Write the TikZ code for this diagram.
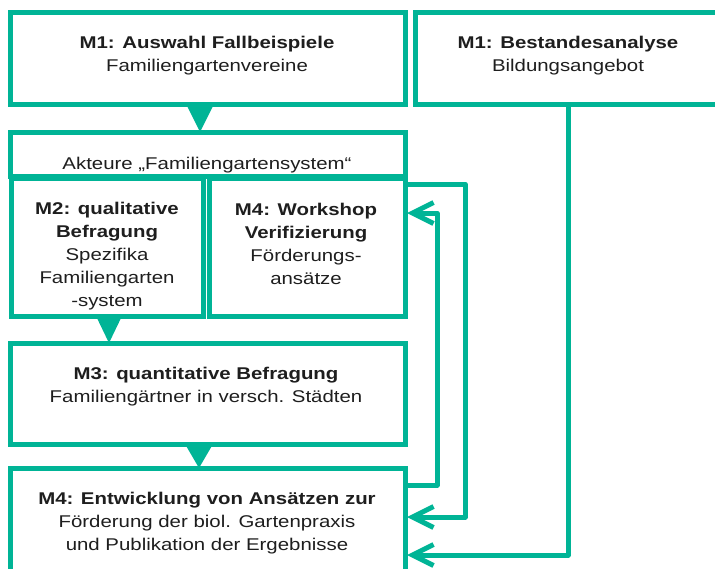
\documentclass[tikz,border=0pt]{standalone}
\usepackage{fontspec}
\setmainfont{Liberation Sans}[FakeStretch=1.2]
\usetikzlibrary{arrows.meta,calc}
\definecolor{teal1}{RGB}{0,180,150}
\definecolor{txt}{RGB}{30,30,30}
\begin{document}
\begin{tikzpicture}[x=1pt,y=-1pt,
  box/.style={draw=teal1,line width=5pt,fill=white,inner sep=0pt,outer sep=0pt,anchor=north west,rectangle},
  lbl/.style={text=txt,align=center,font=\fontsize{17}{23}\selectfont,inner sep=0pt},
  fb/.style={draw=teal1,line width=5pt,line join=round},
  tipend/.style={-{Straight Barb[length=21pt,width=21pt]}},
  tri/.style={fill=teal1}]
\useasboundingbox (0,0) rectangle (715,568);
\clip (0,0) rectangle (715,568);
% boxes
\node[box,minimum width=395pt,minimum height=92pt] (b1) at (10,12) {};
\node[box,minimum width=310pt,minimum height=92pt] (b2) at (415,12) {};
\node[box,minimum width=395pt,minimum height=44pt] (akt) at (10,132) {};
\node[box,minimum width=192pt,minimum height=138pt] (m2) at (11,178) {};
\node[box,minimum width=196pt,minimum height=138pt] (m4w) at (209,178) {};
\node[box,minimum width=395pt,minimum height=101pt] (m3) at (10,343) {};
\node[box,minimum width=395pt,minimum height=120pt] (m4) at (10,468) {};
% texts
\node[lbl] (t1) at (207,56) {\textbf{M1: Auswahl Fallbeispiele}\\Familiengartenvereine};
\node[lbl] (t2) at (568,56) {\textbf{M1: Bestandesanalyse}\\Bildungsangebot};
\node[lbl] (tak) at (207,165) {Akteure „Familiengartensystem“};
\node[lbl] (tm2) at (107,256) {\textbf{M2: qualitative}\\\textbf{Befragung}\\Spezifika\\Familiengarten\\-system};
\node[lbl] (tm4w) at (306,244) {\textbf{M4: Workshop}\\\textbf{Verifizierung}\\Förderungs-\\ansätze};
\node[lbl] (tm3) at (206,387) {\textbf{M3: quantitative Befragung}\\Familiengärtner in versch. Städten};
\node[lbl] (tm4) at (207,523) {\textbf{M4: Entwicklung von Ansätzen zur}\\Förderung der biol. Gartenpraxis\\und Publikation der Ergebnisse};
% triangles
\coordinate (x1) at (200,0);
\coordinate (x2) at (109,0);
\coordinate (x3) at (199,0);
\coordinate (x4) at (568,0);
\fill[tri] ($(b1.south -| x1)+(-14,0)$) -- ($(b1.south -| x1)+(14,0)$) -- (akt.north -| x1) -- cycle;
\fill[tri] ($(m2.south -| x2)+(-13,0)$) -- ($(m2.south -| x2)+(13,0)$) -- (m3.north -| x2) -- cycle;
\fill[tri] ($(m3.south -| x3)+(-14,0)$) -- ($(m3.south -| x3)+(14,0)$) -- (m4.north -| x3) -- cycle;
% feedback connectors
\draw[fb,tipend] ($(m4w.north east)+(0,6)$) -- ++(60,0) |- ($(m4.north east)+(2,49)$);
\draw[fb,tipend] ($(m4.north east)+(0,17)$) -- ++(32,0) |- ($(m4w.north east)+(2,35)$);
\draw[fb,tipend] (b2.south -| x4) |- ($(m4.north east)+(2,87)$);
\end{tikzpicture}
\end{document}
